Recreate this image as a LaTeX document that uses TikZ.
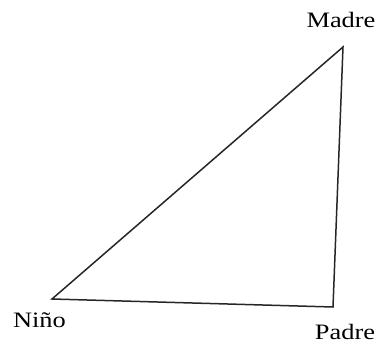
\documentclass[tikz,border=0pt]{standalone}
\usepackage{fontspec}
\setmainfont{Liberation Serif}
\begin{document}
\begin{tikzpicture}[x=1pt,y=1pt,
  lbl/.style={anchor=base,inner sep=0pt,font=\fontsize{22}{24}\selectfont},
  edge/.style={line width=1.5pt,line join=miter,color=black!85}]
\useasboundingbox (0,0) rectangle (380,343);
\coordinate (m) at (343,296);
\coordinate (n) at (52,44);
\coordinate (p) at (333,36);
\draw[edge] (m) -- (n) -- (p) -- cycle;
\node[lbl] (madre) at (341,315) {\scalebox{1.2}[1]{Madre}};
\node[lbl] (nino) at (39.5,16) {\scalebox{1.2}[1]{Niño}};
\node[lbl] (padre) at (345,4) {\scalebox{1.2}[1]{Padre}};
\end{tikzpicture}
\end{document}
